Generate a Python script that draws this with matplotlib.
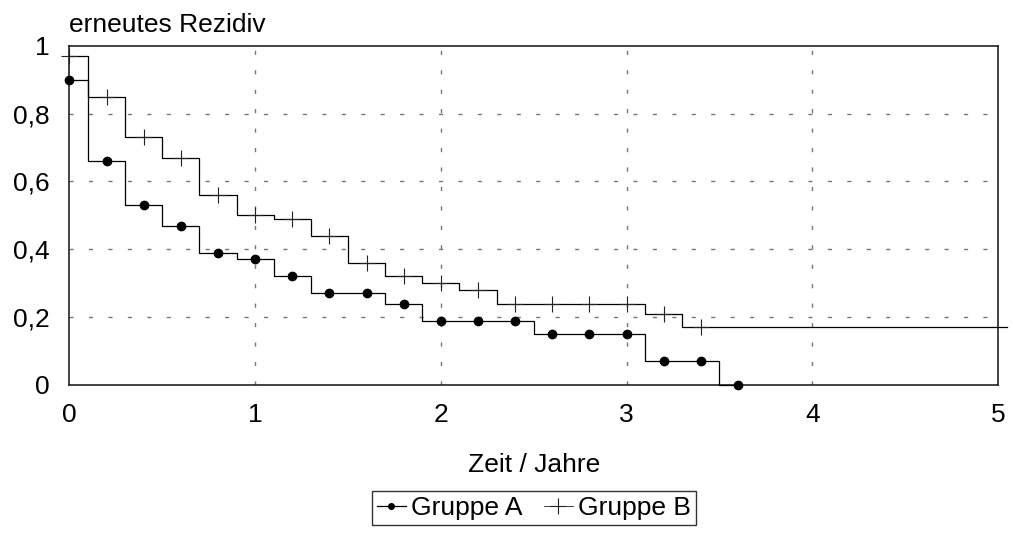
import matplotlib
matplotlib.use("Agg")
import matplotlib.pyplot as plt
from matplotlib.lines import Line2D

plt.rcParams['font.family'] = ['Liberation Sans', 'DejaVu Sans']

# time points (years) and survival-type values for both groups
zeit_a = [0.0, 0.2, 0.4, 0.6, 0.8, 1.0, 1.2, 1.4, 1.6, 1.8, 2.0, 2.2, 2.4,
          2.6, 2.8, 3.0, 3.2, 3.4, 3.6]
gruppe_a = [0.90, 0.66, 0.53, 0.47, 0.39, 0.37, 0.32, 0.27, 0.27, 0.24, 0.19,
            0.19, 0.19, 0.15, 0.15, 0.15, 0.07, 0.07, 0.0]

zeit_b = [0.0, 0.2, 0.4, 0.6, 0.8, 1.0, 1.2, 1.4, 1.6, 1.8, 2.0, 2.2, 2.4,
          2.6, 2.8, 3.0, 3.2, 3.4]
gruppe_b = [0.97, 0.85, 0.73, 0.67, 0.56, 0.50, 0.49, 0.44, 0.36, 0.32, 0.30,
            0.28, 0.24, 0.24, 0.24, 0.24, 0.21, 0.17]
b_ende = 5.05  # last level of group B runs to the right edge

x_ticks = [0, 1, 2, 3, 4, 5]
y_ticks = [0, 0.2, 0.4, 0.6, 0.8, 1]
y_labels = ['0', '0,2', '0,4', '0,6', '0,8', '1']

fs = 19

fig = plt.figure(figsize=(10.13, 5.35), dpi=100)
ax = fig.add_axes([0.0686, 0.2804, 0.9166, 0.6342])

# step curves: values change halfway between the time points
ax.plot(zeit_a, gruppe_a, drawstyle='steps-mid', color='black', lw=0.9,
        clip_on=False, zorder=3)
ax.plot(zeit_a, gruppe_a, ls='none', marker='o', ms=6, color='black',
        clip_on=False, zorder=4)

ax.plot(zeit_b + [b_ende], gruppe_b + [gruppe_b[-1]], drawstyle='steps-mid',
        color='black', lw=0.9, clip_on=False, zorder=3)
ax.plot(zeit_b, gruppe_b, ls='none', marker='+', ms=11, mew=0.8,
        color='#222222', clip_on=False, zorder=4)

ax.set_xlim(0, 5)
ax.set_ylim(0, 1)
ax.set_xticks(x_ticks)
ax.set_xticklabels([str(t) for t in x_ticks])
ax.set_yticks(y_ticks)
ax.set_yticklabels(y_labels)
ax.tick_params(axis='both', length=0, labelsize=fs)
ax.tick_params(axis='x', pad=13)
ax.tick_params(axis='y', pad=14)

# dashed grid only at the inner ticks
for xv in x_ticks[1:-1]:
    ax.axvline(xv, color='#777777', lw=1, dashes=(3, 11), zorder=1)
for yv in y_ticks[1:-1]:
    ax.axhline(yv, color='#777777', lw=1, dashes=(3, 11), zorder=1)

for sp in ax.spines.values():
    sp.set_linewidth(1.2)
    sp.set_color('#222222')

ax.text(0, 1.025, 'erneutes Rezidiv', transform=ax.transAxes, ha='left',
        va='bottom', fontsize=fs)
ax.set_xlabel('Zeit / Jahre', fontsize=fs, labelpad=19)

handles = [
    Line2D([], [], color='black', lw=0.9, marker='o', ms=4),
    Line2D([], [], color='#222222', lw=0.6, marker='+', ms=11, mew=0.8),
]
leg = fig.legend(handles, ['Gruppe A', 'Gruppe B'], loc='center',
                 bbox_to_anchor=(0.527, 0.0505), ncol=2, fontsize=fs,
                 frameon=True, fancybox=False, edgecolor='black',
                 handlelength=1.1, handletextpad=0.2, columnspacing=0.8,
                 borderpad=0.2, borderaxespad=0)
leg.get_frame().set_linewidth(1.0)

fig.savefig('out.png', dpi=100)
